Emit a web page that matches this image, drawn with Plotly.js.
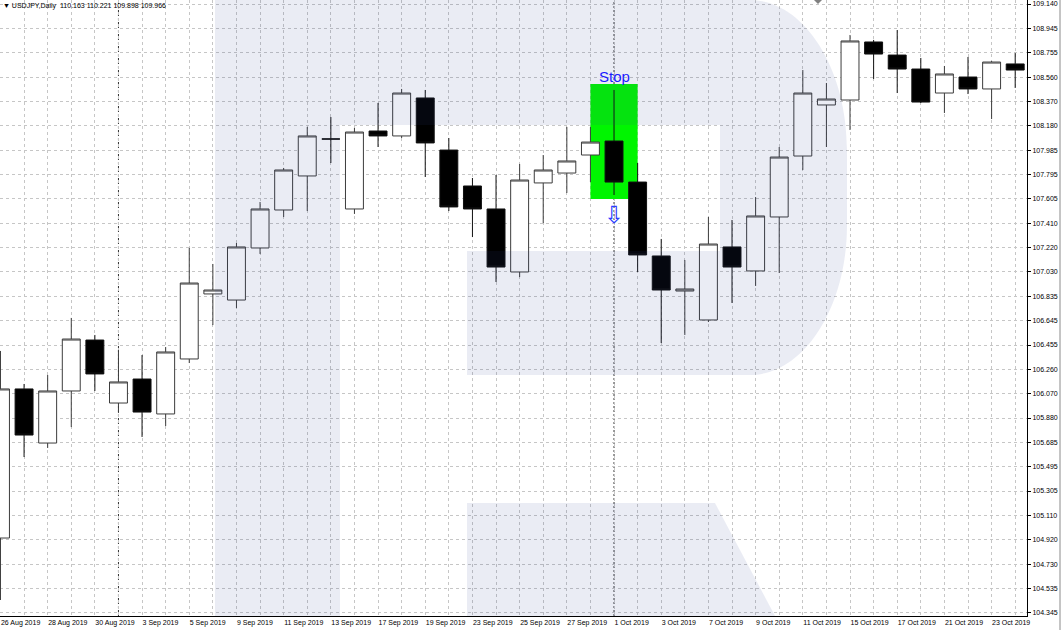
<!DOCTYPE html>
<html>
<head>
<meta charset="utf-8">
<script src="https://cdn.plot.ly/plotly-3.0.1.min.js"></script>
<style>html,body{margin:0;padding:0;background:#fff;}#chart{width:1062px;height:630px;}</style>
</head>
<body>
<div id="chart"></div>
<script>
const dates = ["26 Aug 2019","27 Aug 2019","28 Aug 2019","29 Aug 2019","30 Aug 2019","2 Sep 2019","3 Sep 2019","4 Sep 2019","5 Sep 2019","6 Sep 2019","9 Sep 2019","10 Sep 2019","11 Sep 2019","12 Sep 2019","13 Sep 2019","16 Sep 2019","17 Sep 2019","18 Sep 2019","19 Sep 2019","20 Sep 2019","23 Sep 2019","24 Sep 2019","25 Sep 2019","26 Sep 2019","27 Sep 2019","30 Sep 2019","1 Oct 2019","2 Oct 2019","3 Oct 2019","4 Oct 2019","7 Oct 2019","8 Oct 2019","9 Oct 2019","10 Oct 2019","11 Oct 2019","14 Oct 2019","15 Oct 2019","16 Oct 2019","17 Oct 2019","18 Oct 2019","21 Oct 2019","22 Oct 2019","23 Oct 2019","24 Oct 2019"];
const openP  = [104.935,106.109,105.683,106.093,106.494,105.998,106.187,105.912,106.345,106.857,106.809,107.219,107.518,107.786,108.077,107.526,108.140,108.101,108.400,107.990,107.707,107.526,107.030,107.731,107.809,107.951,108.061,107.738,107.156,106.880,106.652,107.227,107.038,107.463,107.943,108.345,108.384,108.841,108.738,108.628,108.439,108.565,108.471,108.668];
const highP  = [106.408,106.148,106.219,106.668,106.534,106.416,106.376,106.439,107.219,107.093,107.258,107.581,107.849,108.172,108.250,108.164,108.361,108.471,108.463,108.085,107.770,107.794,107.880,107.951,108.172,108.172,108.463,107.888,107.290,107.124,107.463,107.439,107.620,108.014,108.620,108.518,108.896,108.857,108.935,108.715,108.652,108.723,108.691,108.754];
const lowP   = [104.447,105.573,105.644,105.809,106.093,105.920,105.731,105.817,106.313,106.612,106.746,107.172,107.463,107.510,107.888,107.487,108.014,108.085,107.778,107.510,107.305,106.951,106.990,107.416,107.652,107.738,107.636,107.030,106.471,106.534,106.636,106.786,106.920,107.022,107.833,108.014,108.148,108.550,108.439,108.360,108.282,108.431,108.234,108.479];
const closeP = [106.109,105.746,106.093,106.502,106.227,106.164,105.927,106.400,106.943,106.888,107.227,107.526,107.833,108.101,108.077,108.132,108.101,108.439,108.046,107.542,107.526,107.069,107.754,107.833,107.904,108.053,107.738,107.164,106.888,106.896,107.250,107.069,107.471,107.935,108.439,108.392,108.849,108.746,108.628,108.368,108.589,108.471,108.683,108.620];
const priceTicks = [109.140,108.945,108.755,108.560,108.370,108.180,107.985,107.795,107.605,107.410,107.220,107.030,106.835,106.645,106.455,106.260,106.070,105.880,105.685,105.495,105.305,105.110,104.920,104.730,104.535,104.345];
const headerText = "▼ USDJPY,Daily  110.163 110.221 109.898 109.966";
const separatorBars = [5, 26];
const stopBox = {from: 25, to: 27, low: 107.605, high: 108.510};
const stopLabel = {bar: 26, price: 108.573, text: "Stop"};
const stopArrow = {bar: 26, price: 107.479, text: "⇩"};

const idx = dates.map((d, i) => i);
const tickText = dates.map((d, i) => (i % 2 === 0 ? d : ""));

// plot area in px (for decorative watermark in paper coords)
const W = 1027, H = 616;
function P(x, y) { return (x / W).toFixed(5) + "," + (1 - y / H).toFixed(5); }
const logoFill = "rgba(50,70,150,0.10)";
const logoMain = "M" + P(215,0) + " L" + P(215,616) + " L" + P(340,616) + " L" + P(340,125) +
  " L" + P(720,125) + " L" + P(720,251) + " L" + P(467,251) + " L" + P(467,375) + " L" + P(750,375) +
  " C" + P(803.5,375) + " " + P(847,307.8) + " " + P(847,225) + " L" + P(847,150) +
  " C" + P(847,67.2) + " " + P(803.5,0) + " " + P(750,0) + " Z";
const logoLeg = "M" + P(467,503) + " L" + P(715,503) + " L" + P(775,616) + " L" + P(467,616) + " Z";

const gridStyle = {gridcolor: "#c6c6c6", griddash: "3px,3px", gridwidth: 1};
const tickFont = {family: "Liberation Sans, Arial, sans-serif", size: 7, color: "#000"};

const trace = {
  type: "candlestick",
  x: idx, open: openP, high: highP, low: lowP, close: closeP,
  increasing: {line: {color: "#3c3c3c", width: 1}, fillcolor: "#ffffff"},
  decreasing: {line: {color: "#111111", width: 1}, fillcolor: "#000000"},
  whiskerwidth: 0, hoverinfo: "none", showlegend: false
};

const shapes = [
  {type: "rect", xref: "x", yref: "y", x0: stopBox.from, x1: stopBox.to, y0: stopBox.low, y1: stopBox.high,
   fillcolor: "#00f500", line: {width: 0}, layer: "between"}
];
separatorBars.forEach(b => shapes.push({type: "line", xref: "x", yref: "paper", x0: b, x1: b, y0: 0, y1: 1,
  line: {color: "#333333", width: 1, dash: "2px,2px"}, layer: "between"}));
shapes.push({type: "path", xref: "paper", yref: "paper", path: logoMain, fillcolor: logoFill, line: {width: 0}, layer: "above"});
shapes.push({type: "path", xref: "paper", yref: "paper", path: logoLeg, fillcolor: logoFill, line: {width: 0}, layer: "above"});
shapes.push({type: "path", xref: "paper", yref: "paper", path: "M" + P(814,0) + " L" + P(822,0) + " L" + P(818,4) + " Z",
  fillcolor: "#808080", line: {width: 0}, layer: "above"});
shapes.push({type: "line", xref: "paper", yref: "paper", x0: 1060 / W, x1: 1060 / W, y0: -14 / H, y1: 1,
  line: {color: "#8a8a8a", width: 1}});

const layout = {
  width: 1062, height: 630,
  margin: {l: 0, r: 35, t: 0, b: 14, pad: 0},
  paper_bgcolor: "#ffffff", plot_bgcolor: "#ffffff",
  boxgap: 0.24, boxgroupgap: 0,
  showlegend: false,
  xaxis: Object.assign({
    range: [-0.02, 43.5], tickmode: "array", tickvals: idx, ticktext: tickText,
    tickangle: 0, ticklabelposition: "outside right", tickfont: tickFont, ticks: "",
    showgrid: true, showline: true, linecolor: "#000", linewidth: 1, zeroline: false,
    rangeslider: {visible: false}, fixedrange: true, automargin: false
  }, gridStyle),
  yaxis: Object.assign({
    side: "right", range: [104.3211, 109.1715], tickmode: "array", tickvals: priceTicks,
    tickformat: ".3f", ticks: "outside", ticklen: 3, tickcolor: "#000", tickwidth: 1,
    tickfont: tickFont, showgrid: true, showline: true, linecolor: "#000", linewidth: 1,
    zeroline: false, fixedrange: true, automargin: false
  }, gridStyle),
  shapes: shapes,
  annotations: [
    {xref: "paper", yref: "paper", x: 0, y: 1, xanchor: "left", yanchor: "top", xshift: 1, yshift: 0,
     text: headerText, showarrow: false, font: {family: "Liberation Sans, DejaVu Sans, sans-serif", size: 7, color: "#000"}},
    {xref: "x", yref: "y", x: stopLabel.bar, y: stopLabel.price, text: stopLabel.text, showarrow: false,
     font: {family: "Liberation Sans, Arial, sans-serif", size: 15, color: "#1a1aff"}},
    {xref: "x", yref: "y", x: stopArrow.bar, y: stopArrow.price, text: stopArrow.text, showarrow: false,
     font: {family: "DejaVu Sans, sans-serif", size: 24, color: "#2a3cff"}}
  ]
};

Plotly.newPlot("chart", [trace], layout, {staticPlot: true, displayModeBar: false});
</script>
</body>
</html>
